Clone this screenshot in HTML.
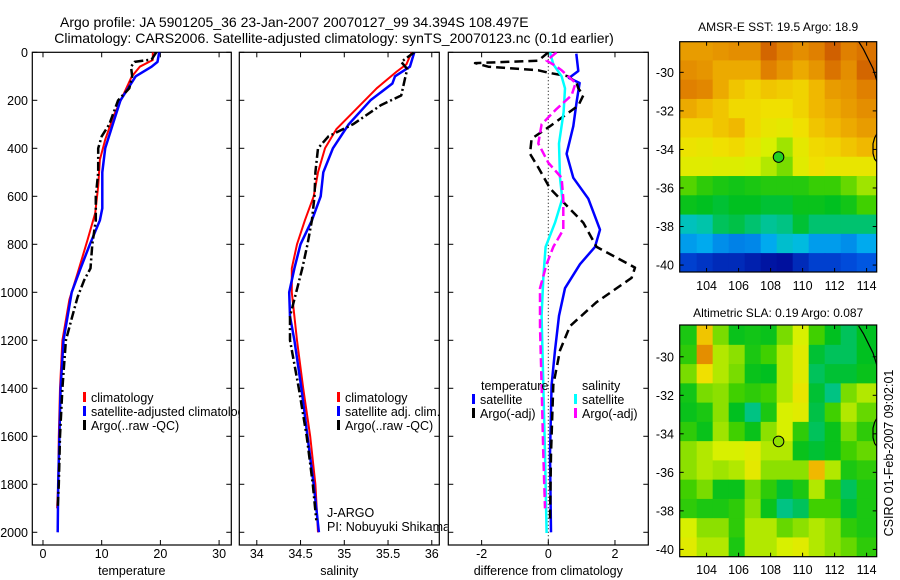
<!DOCTYPE html>
<html><head><meta charset="utf-8"><style>
html,body{margin:0;padding:0;background:#fff;}
svg{display:block;font-family:"Liberation Sans",sans-serif;}
</style></head><body>
<svg id="fig" width="900" height="580" viewBox="0 0 900 580" xmlns="http://www.w3.org/2000/svg">
<defs>
<clipPath id="cp1"><rect x="32.3" y="52.3" width="199" height="492.7"/></clipPath>
<clipPath id="cp2"><rect x="239.3" y="52.3" width="200" height="492.7"/></clipPath>
<clipPath id="cp3"><rect x="448.3" y="52.3" width="200" height="492.7"/></clipPath>
<clipPath id="cl1"><rect x="0" y="0" width="239" height="580"/></clipPath>
<clipPath id="cl2"><rect x="0" y="0" width="447.5" height="580"/></clipPath>
<clipPath id="cm1"><rect x="679.7" y="41.7" width="197" height="230.3"/></clipPath>
<clipPath id="cm2"><rect x="679.7" y="325" width="197" height="231.7"/></clipPath>
</defs>
<text x="60" y="27" font-size="14">Argo profile: JA 5901205_36 23-Jan-2007 20070127_99 34.394S 108.497E</text>
<text x="54.3" y="43" font-size="14">Climatology: CARS2006. Satellite-adjusted climatology: synTS_20070123.nc (0.1d earlier)</text>
<g id="layer"></g>
</svg>
<script>
// ---------- profile data ----------
const tClimDepth = [0,32,60,102,267,364,447,558,670,781,920,1030,1200,1400,1600,1800,1900];
const tClim      = [18.7,18.7,16.5,15.1,12.0,10.6,9.7,9.4,8.9,7.6,5.9,4.5,3.3,2.9,2.7,2.6,2.4];
const tSatDepth  = [0,40,60,100,200,300,400,500,650,700,800,900,1000,1200,1400,1600,1800,2000];
const tSat       = [19.8,19.5,18.5,15.8,13.2,11.9,10.6,10.1,10.1,9.7,8.0,6.4,4.9,3.5,3.0,2.8,2.6,2.5];
const tArgoDepth = [0,30,40,60,100,150,200,300,350,400,500,600,700,800,900,950,1020,1100,1200,1400,1600,1800,1900];
const tArgo      = [19.3,18.5,15.6,15.0,15.2,14.7,12.8,11.3,10.0,9.4,9.4,9.0,9.0,8.4,8.1,7.0,5.9,5.0,3.9,3.3,2.9,2.7,2.5];

const sClimDepth = [0,50,80,150,250,320,400,500,600,700,800,900,1000,1200,1400,1600,1800,2000];
const sClim      = [35.77,35.71,35.60,35.37,35.10,34.91,34.78,34.70,34.65,34.55,34.46,34.40,34.40,34.46,34.53,34.61,34.67,34.70];
const sSatDepth  = [0,60,100,130,200,300,400,500,600,700,800,900,1000,1100,1200,1400,1600,1800,2000];
const sSat       = [35.80,35.75,35.58,35.55,35.30,35.05,34.87,34.76,34.73,34.63,34.50,34.43,34.37,34.38,34.43,34.51,34.58,34.65,34.71];
const sArgoDepth = [0,40,70,100,180,220,300,350,400,500,600,700,800,900,1000,1100,1200,1400,1600,1800,1950];
const sArgo      = [35.80,35.65,35.72,35.70,35.65,35.42,35.10,34.82,34.70,34.67,34.66,34.63,34.58,34.52,34.45,34.38,34.38,34.48,34.57,34.64,34.68];

const dTSatDepth  = [6,78,107,128,207,308,423,523,610,739,811,883,983,1098,1242,1386,1673,2000];
const dTSat       = [0.84,0.9,0.62,0.94,0.85,0.75,0.55,0.75,1.2,1.55,1.4,0.95,0.5,0.32,0.2,0.1,0.05,0.08];
const dTArgoDepth = [0,35,45,60,75,85,100,128,150,179,222,308,360,423,480,567,710,811,897,940,1041,1141,1242,1386,1673,1960];
const dTArgo      = [0.0,-0.3,-2.2,-1.8,-0.3,0.0,0.6,0.85,0.9,1.05,0.9,0.05,-0.5,-0.55,-0.3,0.05,1.05,1.45,2.6,2.5,1.45,0.65,0.35,0.15,0.08,0.05];
const dSSatDepth  = [0,50,100,150,250,380,523,610,710,811,940,1098,1386,1673,2003];
const dSSat       = [0.05,0.15,0.4,0.5,0.46,0.32,0.35,0.42,0.2,-0.08,-0.15,-0.2,-0.15,-0.1,-0.05];
const dSArgoDepth = [0,35,55,75,128,179,236,300,380,460,523,610,739,811,883,983,1141,1386,1673,1900];
const dSArgo      = [0.25,-0.05,0.2,0.4,0.82,0.7,0.25,-0.2,-0.3,0.0,0.4,0.45,0.45,0.15,-0.05,-0.25,-0.25,-0.2,-0.15,-0.1];

const depthTicks = [0,200,400,600,800,1000,1200,1400,1600,1800,2000];
const tempTicks = [0,10,20,30];
const salTicks = [34,34.5,35,35.5,36];
const salTickLabels = ["34","34.5","35","35.5","36"];
const diffTicks = [-2,0,2];

// ---------- map data (normalised colour index 0..1) ----------
const gridLon = [102.9,103.9,104.9,105.9,106.9,107.9,108.9,109.9,110.9,111.9,112.9,113.9];
const gridLat = [-28.9,-29.9,-30.9,-31.9,-32.9,-33.9,-34.9,-35.9,-36.9,-37.9,-38.9,-39.9];
const sstGrid = [
[0.76,0.76,0.77,0.78,0.78,0.84,0.80,0.78,0.80,0.85,0.80,0.82],
[0.78,0.77,0.74,0.74,0.74,0.80,0.77,0.74,0.77,0.82,0.78,0.84],
[0.80,0.79,0.74,0.70,0.68,0.70,0.69,0.68,0.72,0.76,0.77,0.80],
[0.74,0.72,0.70,0.67,0.67,0.66,0.66,0.68,0.72,0.74,0.76,0.78],
[0.68,0.68,0.70,0.72,0.67,0.64,0.63,0.66,0.70,0.72,0.74,0.76],
[0.65,0.64,0.66,0.67,0.64,0.60,0.57,0.63,0.67,0.68,0.70,0.72],
[0.62,0.62,0.61,0.61,0.60,0.58,0.55,0.62,0.66,0.64,0.64,0.64],
[0.53,0.50,0.48,0.47,0.48,0.49,0.49,0.49,0.51,0.51,0.54,0.57],
[0.46,0.45,0.44,0.45,0.45,0.44,0.44,0.46,0.46,0.45,0.47,0.52],
[0.36,0.38,0.42,0.43,0.41,0.39,0.40,0.44,0.41,0.41,0.41,0.41],
[0.26,0.28,0.24,0.22,0.23,0.28,0.34,0.32,0.26,0.26,0.24,0.28],
[0.12,0.10,0.08,0.08,0.06,0.04,0.03,0.08,0.12,0.12,0.14,0.16]];
const slaGrid = [
[0.48,0.70,0.55,0.46,0.47,0.46,0.55,0.60,0.52,0.45,0.42,0.45],
[0.50,0.78,0.58,0.56,0.48,0.52,0.58,0.62,0.44,0.42,0.42,0.45],
[0.55,0.66,0.58,0.55,0.46,0.45,0.58,0.62,0.42,0.44,0.44,0.46],
[0.47,0.55,0.56,0.52,0.50,0.52,0.58,0.64,0.44,0.40,0.55,0.58],
[0.46,0.48,0.56,0.45,0.40,0.48,0.60,0.62,0.43,0.52,0.58,0.54],
[0.50,0.46,0.57,0.52,0.46,0.56,0.60,0.50,0.42,0.46,0.55,0.50],
[0.56,0.58,0.60,0.60,0.62,0.58,0.58,0.46,0.44,0.46,0.52,0.54],
[0.56,0.58,0.57,0.58,0.63,0.56,0.56,0.56,0.72,0.58,0.48,0.50],
[0.52,0.55,0.46,0.46,0.55,0.50,0.44,0.48,0.58,0.50,0.42,0.48],
[0.50,0.48,0.48,0.50,0.56,0.46,0.40,0.42,0.52,0.52,0.44,0.48],
[0.60,0.56,0.56,0.50,0.58,0.58,0.54,0.56,0.58,0.56,0.50,0.48],
[0.62,0.58,0.58,0.48,0.58,0.58,0.60,0.62,0.58,0.56,0.54,0.50]];
const floatLon = 108.497, floatLat = -34.394;
const coastLonA = [113.5,113.8,114.1,114.4,114.7];
const coastLatA = [-28.4,-28.8,-29.3,-29.8,-30.6];
const coastLonB = [114.7,114.5,114.4,114.4,114.5,114.7];
const coastLatB = [-33.1,-33.4,-33.7,-34.2,-34.5,-34.7];
const lonTicks = [104,106,108,110,112,114];
const latTicks = [-30,-32,-34,-36,-38,-40];

const NS = "http://www.w3.org/2000/svg";
const layer = document.getElementById('layer');
function mk(tag, attrs, parent){ const e=document.createElementNS(NS,tag); for(const k in attrs) e.setAttribute(k,attrs[k]); (parent||layer).appendChild(e); return e; }

const Y0=52.3, Y1=545, DMAX=2053;
function yScale(d){ return Y0 + d/DMAX*(Y1-Y0); }
function xs(x0,x1,v0,v1){ return v=> x0+(v-v0)/(v1-v0)*(x1-x0); }

const panels = [
 {name:'temperature', x0:32.3, x1:231.3, v0:-1.82, v1:32.08, ticks:tempTicks, labels:tempTicks.map(String), clip:'cp1', xlabel:'temperature'},
 {name:'salinity', x0:239.3, x1:439.3, v0:33.80, v1:36.086, ticks:salTicks, labels:salTickLabels, clip:'cp2', xlabel:'salinity'},
 {name:'difference', x0:448.3, x1:648.3, v0:-3, v1:3, ticks:diffTicks, labels:diffTicks.map(String), clip:'cp3', xlabel:'difference from climatology'}
];

function drawLine(p, depths, vals, color, width, dash, name){
  const sx = xs(p.x0,p.x1,p.v0,p.v1);
  const pts = depths.map((d,i)=> sx(vals[i]).toFixed(1)+','+yScale(d).toFixed(1)).join(' ');
  const a = {points:pts, fill:'none', stroke:color, 'stroke-width':width, 'stroke-linejoin':'round', 'clip-path':'url(#'+p.clip+')'};
  if(dash) a['stroke-dasharray']=dash;
  const e = mk('polyline', a);
  
  
}

panels.forEach((p,pi)=>{
  const g = mk('g',{});
  
  
  const sx = xs(p.x0,p.x1,p.v0,p.v1);
  mk('rect',{x:p.x0,y:Y0,width:p.x1-p.x0,height:Y1-Y0,fill:'none',stroke:'#000','stroke-width':1.2},g);
  p.ticks.forEach((t,i)=>{
    const x=sx(t);
    mk('line',{x1:x,x2:x,y1:Y1,y2:Y1-5,stroke:'#000'},g);
    mk('line',{x1:x,x2:x,y1:Y0,y2:Y0+5,stroke:'#000'},g);
    const tl = mk('text',{x:x,y:558,'font-size':12.5,'text-anchor':'middle'},g);
    tl.textContent = p.labels[i];
    
    
  });
  depthTicks.forEach(d=>{
    const y=yScale(d);
    mk('line',{x1:p.x0,x2:p.x0+5,y1:y,y2:y,stroke:'#000'},g);
    mk('line',{x1:p.x1,x2:p.x1-5,y1:y,y2:y,stroke:'#000'},g);
    if(pi===0){
      const tl = mk('text',{x:28,y:y+4.5,'font-size':12.5,'text-anchor':'end'},g);
      tl.textContent = String(d);
      
      
    }
  });
  const xl = mk('text',{x:(p.x0+p.x1)/2,y:575,'font-size':12.5,'text-anchor':'middle'},g);
  xl.textContent = p.xlabel;
  
  
});

// zero line in diff panel
{
  const p=panels[2]; const x=xs(p.x0,p.x1,p.v0,p.v1)(0);
  const z = mk('line',{x1:x,x2:x,y1:Y0,y2:Y1,stroke:'#000','stroke-width':1,'stroke-dasharray':'1,2.5'});
  
  
}

drawLine(panels[0], tClimDepth, tClim, '#ff0000', 2, null, 'temperature-climatology-line');
drawLine(panels[0], tSatDepth, tSat, '#0000ff', 2.5, null, 'temperature-satellite-line');
drawLine(panels[0], tArgoDepth, tArgo, '#000', 2.5, '9,3,2,3', 'temperature-argo-line');
drawLine(panels[1], sClimDepth, sClim, '#ff0000', 2, null, 'salinity-climatology-line');
drawLine(panels[1], sSatDepth, sSat, '#0000ff', 2.5, null, 'salinity-satellite-line');
drawLine(panels[1], sArgoDepth, sArgo, '#000', 2.5, '9,3,2,3', 'salinity-argo-line');
drawLine(panels[2], dTSatDepth, dTSat, '#0000ff', 2.5, null, 'diff-temperature-satellite-line');
drawLine(panels[2], dTArgoDepth, dTArgo, '#000', 2.5, '9,5', 'diff-temperature-argo-line');
drawLine(panels[2], dSSatDepth, dSSat, '#00ffff', 2.5, null, 'diff-salinity-satellite-line');
drawLine(panels[2], dSArgoDepth, dSArgo, '#ff00ff', 2.5, '9,4', 'diff-salinity-argo-line');

function legendEntry(x, y, color, label, name, clip){
  const g = mk('g',clip?{'clip-path':'url(#'+clip+')'}:{});
  
  
  if(color) mk('rect',{x:x,y:y-10,width:3,height:10,fill:color},g);
  const t = mk('text',{x:x+8,y:y,'font-size':12.5},g);
  t.textContent = label;
}
legendEntry(83,402,'#ff0000','climatology','legend-climatology','cl1');
legendEntry(83,416,'#0000ff','satellite-adjusted climatology','legend-satellite-adjusted','cl1');
legendEntry(83,430,'#000','Argo(..raw -QC)','legend-argo','cl1');
legendEntry(337,402,'#ff0000','climatology','legend-sal-climatology','cl2');
legendEntry(337,416,'#0000ff','satellite adj. clim.','legend-sal-satellite','cl2');
legendEntry(337,430,'#000','Argo(..raw -QC)','legend-sal-argo','cl2');
legendEntry(319,517,null,'J-ARGO','pi-program','cl2');
legendEntry(319,531,null,'PI: Nobuyuki Shikama','pi-name','cl2');
legendEntry(473,390,null,'temperature','legend-temperature-heading');
legendEntry(472,404,'#0000ff','satellite','legend-diff-temp-satellite');
legendEntry(472,418,'#000','Argo(-adj)','legend-diff-temp-argo');
legendEntry(574,390,null,'salinity','legend-salinity-heading');
legendEntry(574,404,'#00ffff','satellite','legend-diff-sal-satellite');
legendEntry(574,418,'#ff00ff','Argo(-adj)','legend-diff-sal-argo');

// ---------- maps ----------
const stops = [[0,[0,0,140]],[0.15,[0,80,224]],[0.3,[0,184,240]],[0.38,[0,196,170]],[0.45,[0,192,32]],[0.52,[64,208,0]],[0.6,[216,240,0]],[0.66,[240,224,0]],[0.72,[240,184,0]],[0.8,[224,128,0]],[0.9,[192,64,0]],[1,[160,32,0]]];
function cmap(v){
  for(let i=1;i<stops.length;i++){
    if(v<=stops[i][0]){ const a=stops[i-1],b=stops[i]; const f=(v-a[0])/(b[0]-a[0]);
      const c=a[1].map((q,k)=>Math.round(q+(b[1][k]-q)*f)); return 'rgb('+c.join(',')+')'; }
  }
  return 'rgb(160,32,0)';
}
const maps = [
 {name:'sst-map', grid:sstGrid, x0:679.7, x1:876.7, y0:41.7, y1:272, lon0:102.32, lon1:114.63, lat0:-28.41, lat1:-40.36, clip:'cm1', title:'AMSR-E SST: 19.5 Argo: 18.9', ty:31, ly:290, mfill:'#22d022'},
 {name:'sla-map', grid:slaGrid, x0:679.7, x1:876.7, y0:325, y1:556.7, lon0:102.32, lon1:114.63, lat0:-28.35, lat1:-40.38, clip:'cm2', title:'Altimetric SLA: 0.19 Argo: 0.087', ty:317, ly:574, mfill:'#90e000'}
];
maps.forEach(m=>{
  const lx = v=> m.x0+(v-m.lon0)/(m.lon1-m.lon0)*(m.x1-m.x0);
  const ly = v=> m.y0+(v-m.lat0)/(m.lat1-m.lat0)*(m.y1-m.y0);
  const outer = mk('g',{'clip-path':'url(#'+m.clip+')'});
  
  
  const g = mk('g',{},outer);
  m.grid.forEach((row,r)=>{
    row.forEach((v,c)=>{
      const lo0 = gridLon[c]-(c===0?1.6:0.52), lo1 = gridLon[c]+(c===row.length-1?1.6:0.52);
      const la0 = gridLat[r]+(r===0?1.6:0.52), la1 = gridLat[r]-(r===m.grid.length-1?1.6:0.52);
      const cell = mk('rect',{x:lx(lo0),y:ly(la0),width:lx(lo1)-lx(lo0),height:ly(la1)-ly(la0),fill:cmap(v)},g);
      
      
    });
  });
  const cA = mk('polyline',{points:coastLonA.map((v,i)=>lx(v)+','+ly(coastLatA[i])).join(' '),fill:'none',stroke:'#000','stroke-width':1.2},outer);
  
  
  const cB = mk('polyline',{points:coastLonB.map((v,i)=>lx(v)+','+ly(coastLatB[i])).join(' '),fill:'none',stroke:'#000','stroke-width':1.2},outer);
  
  
  const fm = mk('circle',{cx:lx(floatLon),cy:ly(floatLat),r:5.3,fill:m.mfill,stroke:'#000','stroke-width':1});
  
  
  const ax = mk('g',{});
  
  
  mk('rect',{x:m.x0,y:m.y0,width:m.x1-m.x0,height:m.y1-m.y0,fill:'none',stroke:'#000','stroke-width':1.2},ax);
  lonTicks.forEach(t=>{
    const x=lx(t);
    mk('line',{x1:x,x2:x,y1:m.y1,y2:m.y1-4,stroke:'#000'},ax);
    mk('line',{x1:x,x2:x,y1:m.y0,y2:m.y0+4,stroke:'#000'},ax);
    const tl=mk('text',{x:x,y:m.ly,'font-size':12.5,'text-anchor':'middle'},ax);
    tl.textContent=String(t);
  });
  latTicks.forEach(t=>{
    const y=ly(t);
    mk('line',{x1:m.x0,x2:m.x0+4,y1:y,y2:y,stroke:'#000'},ax);
    mk('line',{x1:m.x1,x2:m.x1-4,y1:y,y2:y,stroke:'#000'},ax);
    const tl=mk('text',{x:674,y:y+4.5,'font-size':12.5,'text-anchor':'end'},ax);
    tl.textContent=String(t);
  });
  const tt = mk('text',{x:(m.x0+m.x1)/2,y:m.ty,'font-size':12,'text-anchor':'middle'});
  tt.textContent = m.title;
  
  
});
const credit = mk('text',{x:0,y:0,'font-size':12.5,'text-anchor':'middle',transform:'translate(893,453) rotate(-90)'});
credit.textContent = 'CSIRO 01-Feb-2007 09:02:01';


</script>
</body></html>
